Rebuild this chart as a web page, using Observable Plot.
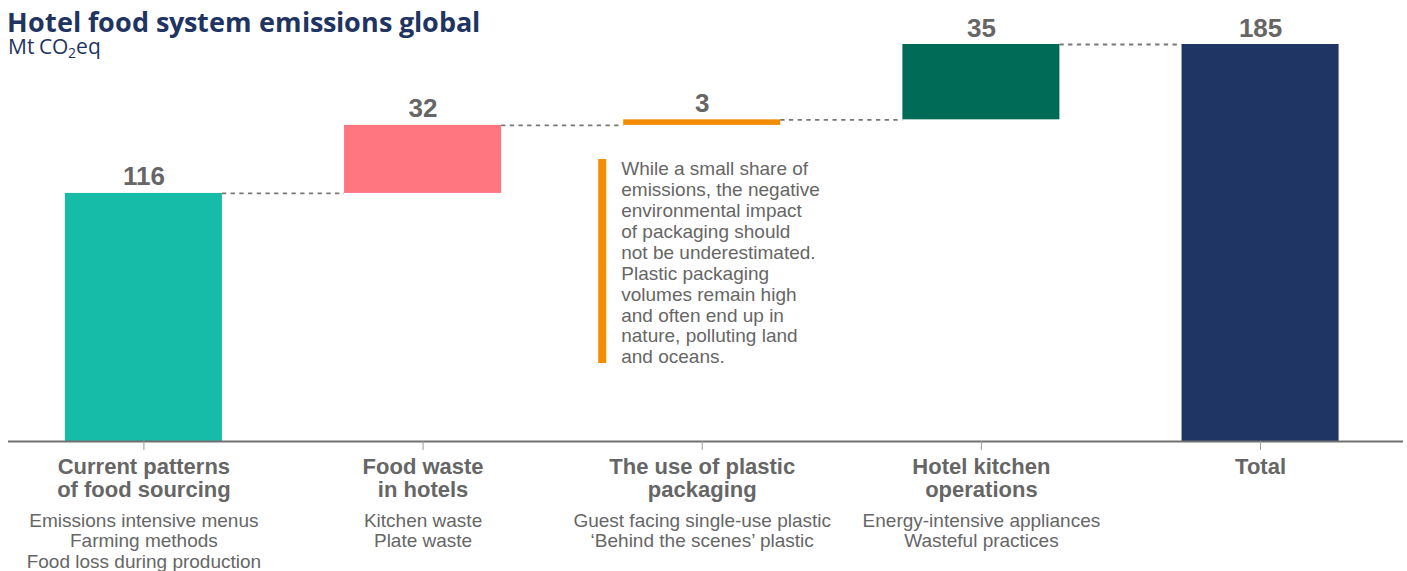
<!DOCTYPE html>
<html>
<head>
<meta charset="utf-8">
<script src="https://cdn.jsdelivr.net/npm/d3@7"></script>
<script src="https://cdn.jsdelivr.net/npm/@observablehq/plot@0.6"></script>
<style>
  @font-face { font-family: "OSHead"; src: local("Open Sans Bold"), local("OpenSans-Bold"); font-weight: 700; ascent-override: 90%; descent-override: 12%; line-gap-override: 0%; }
  @font-face { font-family: "OSHead"; src: local("Open Sans Regular"), local("OpenSans-Regular"), local("Open Sans"); font-weight: 400; ascent-override: 90%; descent-override: 12%; line-gap-override: 0%; }
  body { margin: 0; background: #fff; }
  #wrap { position: relative; width: 1407px; height: 571px; overflow: hidden; }
  #title { position: absolute; left: 7px; top: 7.5px; font-family: "OSHead", "Open Sans", sans-serif; font-weight: 700; font-size: 27.2px; line-height: 1; color: #1F3461; white-space: nowrap; }
  #sub { position: absolute; left: 8px; top: 36.3px; font-family: "OSHead", "Open Sans", sans-serif; font-weight: 400; font-size: 21px; line-height: 1; color: #1F3461; white-space: nowrap; }
  #sub sub { font-size: 13.5px; vertical-align: -4px; line-height: 0; }
  #chart svg { display: block; }
</style>
</head>
<body>
<div id="wrap">
  <div id="chart"></div>
  <div id="title">Hotel food system emissions global</div>
  <div id="sub">Mt CO<sub>2</sub>eq</div>
</div>
<script>
// ---- data ----
const categories = ["Current patterns of food sourcing", "Food waste in hotels", "The use of plastic packaging", "Hotel kitchen operations", "Total"];
const categoryLabels = ["Current patterns\nof food sourcing", "Food waste\nin hotels", "The use of plastic\npackaging", "Hotel kitchen\noperations", "Total"];
const descriptions = [
  "Emissions intensive menus\nFarming methods\nFood loss during production",
  "Kitchen waste\nPlate waste",
  "Guest facing single-use plastic\n\u2018Behind the scenes\u2019 plastic",
  "Energy-intensive appliances\nWasteful practices",
  ""
];
const stepValues = [115.6, 31.7, 2.6, 35.1];
const totalValue = 185;
const valueLabels = ["116", "32", "3", "35", "185"];
const noteText = "While a small share of\nemissions, the negative\nenvironmental impact\nof packaging should\nnot be underestimated.\nPlastic packaging\nvolumes remain high\nand often end up in\nnature, polluting land\nand oceans.";
const colors = ["#17BCA9", "#FF7580", "#F28C00", "#006B56", "#1F3664"];

// ---- derived table ----
let cum = 0;
const rows = categories.map((c, i) => {
  if (i < stepValues.length) {
    const r = {i, cat: c, y1: cum, y2: cum + stepValues[i], label: valueLabels[i], name: categoryLabels[i], desc: descriptions[i]};
    cum += stepValues[i];
    return r;
  }
  return {i, cat: c, y1: 0, y2: totalValue, label: valueLabels[i], name: categoryLabels[i], desc: descriptions[i]};
});
const connectors = rows.slice(0, -1).map((r, k) => ({from: r.i, to: rows[k + 1].i, y: r.y2}));
const hw = 0.28125; // half bar width in index units
const plastic = rows[2];
const note = [{x: plastic.i, y: plastic.y1, text: noteText}];

const font = "'Liberation Sans', Arial, Helvetica, sans-serif";

const chart = Plot.plot({
  width: 1407,
  height: 571,
  marginLeft: 8,
  marginRight: 4,
  marginTop: 44,
  marginBottom: 130,
  style: {fontFamily: font, background: "#fff"},
  x: {domain: [-0.485, 4.512], axis: null},
  y: {domain: [0, 185], axis: null},
  marks: [
    Plot.rectY(rows, {x1: d => d.i - hw, x2: d => d.i + hw, y1: "y1", y2: "y2", fill: d => colors[d.i]}),
    Plot.ruleY(connectors, {x1: d => d.from + hw, x2: d => d.to - hw, y: "y", stroke: "#777", strokeWidth: 1.8, strokeDasharray: "4.3,4.4"}),
    Plot.ruleY([0], {stroke: "#707070", strokeWidth: 2}),
    Plot.axisX({ticks: rows.map(r => r.i), tickSize: 9, tickPadding: 0, tickFormat: () => "", stroke: "#9a9a9a", label: null}),
    Plot.text(rows, {x: "i", y: "y2", text: "label", dy: -8, lineAnchor: "bottom", fontSize: 26, fontWeight: "bold", fill: "#666"}),
    Plot.text(rows, {x: "i", y: 0, text: "name", dy: 17, lineAnchor: "top", fontSize: 22, fontWeight: "bold", lineHeight: 1.02, fill: "#666"}),
    Plot.text(rows, {x: "i", y: 0, text: "desc", dy: 71, lineAnchor: "top", fontSize: 19, lineHeight: 1.07, fill: "#666"}),
    Plot.ruleX(note, {x: "x", y1: "y", y2: "y", dx: -100, insetTop: 34, insetBottom: -238, stroke: "#F28C00", strokeWidth: 8}),
    Plot.text(note, {x: "x", y: "y", text: "text", dx: -81, dy: 35, textAnchor: "start", lineAnchor: "top", fontSize: 19, lineHeight: 1.1, fill: "#666"})
  ]
});
document.getElementById("chart").appendChild(chart);
</script>
</body>
</html>
